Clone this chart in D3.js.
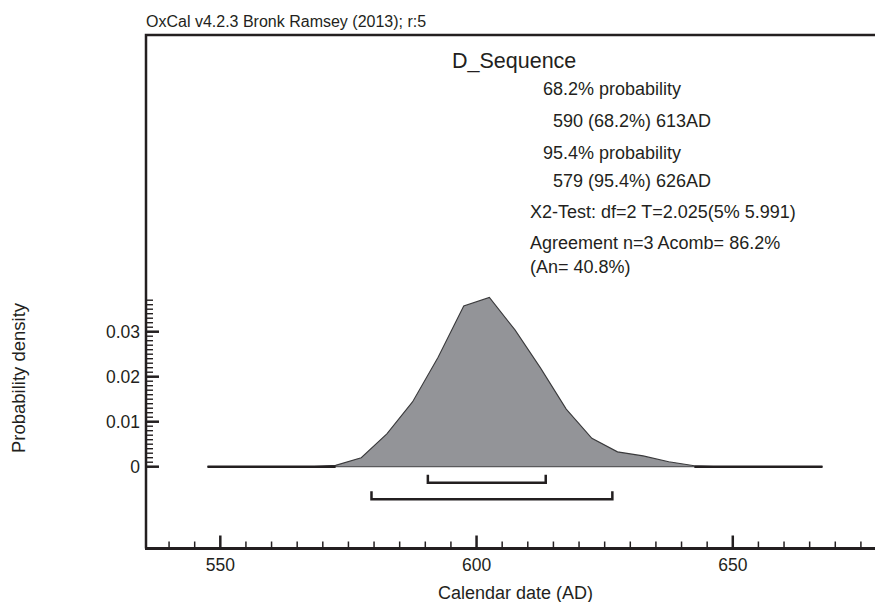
<!DOCTYPE html>
<html>
<head>
<meta charset="utf-8">
<script src="https://cdn.jsdelivr.net/npm/d3@7"></script>
<style>
  html, body { margin: 0; padding: 0; background: #fff; }
  svg { display: block; font-family: "Liberation Sans", Arial, Helvetica, sans-serif; }
</style>
</head>
<body>
<svg id="chart" width="875" height="602"></svg>
<script>
// ---- data ----
const years = [547.5, 552.5, 557.5, 562.5, 567.5, 572.5, 577.5, 582.5, 587.5, 592.5, 597.5, 602.5,
               607.5, 612.5, 617.5, 622.5, 627.5, 632.5, 637.5, 642.5, 647.5, 652.5, 657.5, 662.5, 667.5];
const density = [0, 0, 0, 0, 0, 0.0003, 0.0020, 0.0073, 0.0144, 0.0243, 0.0357, 0.0376,
                 0.0304, 0.0219, 0.0128, 0.0063, 0.0033, 0.0024, 0.0011, 0.0002, 0, 0, 0, 0, 0];
const rangeLabels = ["68.2%", "95.4%"];
const rangeFrom = [590.5, 579.5];
const rangeTo = [613.5, 626.5];
const xMajorTicks = [550, 600, 650];
const xMinorTicks = d3.range(540, 680, 5);
const yMajorTicks = [0, 0.01, 0.02, 0.03];
const yMinorTicks = d3.range(0, 0.0375, 0.001);
const yTickLabels = ["0", "0.01", "0.02", "0.03"];
const headerText = "OxCal v4.2.3 Bronk Ramsey (2013); r:5";
const titleText = "D_Sequence";
const infoLines = [
  "68.2% probability",
  "590 (68.2%) 613AD",
  "95.4% probability",
  "579 (95.4%) 626AD",
  "X2-Test: df=2 T=2.025(5% 5.991)",
  "Agreement n=3 Acomb= 86.2%",
  "(An= 40.8%)"
];
const xTitle = "Calendar date (AD)";
const yTitle = "Probability density";

// ---- layout ----
const svg = d3.select("#chart");
const fLeft = 146, fTop = 35, fRight = 875, fBottom = 548.5;
const x = d3.scaleLinear().domain([535.5, 677.75]).range([fLeft, fRight]);
const y = d3.scaleLinear().domain([0, 0.04]).range([466.7, 286.7]);
const ink = "#231f20";

const pts = years.map((yr, i) => ({ yr, d: density[i] }));

// filled density
svg.append("path")
  .datum(pts)
  .attr("d", d3.area().x(p => x(p.yr)).y0(y(0)).y1(p => y(p.d)))
  .attr("fill", "#939498")
  .attr("stroke", "none");

// outline of curve
svg.append("path")
  .datum(pts)
  .attr("d", d3.line().x(p => x(p.yr)).y(p => y(p.d)))
  .attr("fill", "none")
  .attr("stroke", "#3a3a3c")
  .attr("stroke-width", 1.1);

// gray baseline under fill
svg.append("line")
  .attr("x1", x(years[0])).attr("x2", x(years[years.length - 1]))
  .attr("y1", y(0)).attr("y2", y(0))
  .attr("stroke", "#5a5a5c").attr("stroke-width", 1.2);

// thick black baseline where density is zero
const firstNZ = density.findIndex(v => v > 0.0005);
const lastNZ = density.length - 1 - [...density].reverse().findIndex(v => v > 0.0005);
[[years[0], years[firstNZ - 1]], [years[lastNZ + 1], years[years.length - 1]]].forEach(([a, b]) => {
  svg.append("line")
    .attr("x1", x(a)).attr("x2", x(b))
    .attr("y1", y(0)).attr("y2", y(0))
    .attr("stroke", ink).attr("stroke-width", 2.5);
});

// range brackets
const bracketY = [482.7, 499.3];
rangeLabels.forEach((lab, i) => {
  const by = bracketY[i];
  const x1 = x(rangeFrom[i]), x2 = x(rangeTo[i]);
  svg.append("path")
    .attr("d", `M${x1},${by - 8}V${by}H${x2}V${by - 8}`)
    .attr("fill", "none")
    .attr("stroke", ink)
    .attr("stroke-width", 2.5);
});

// frame: top and left
svg.append("path")
  .attr("d", `M${fRight + 5},${fTop}H${fLeft}V${fBottom}`)
  .attr("fill", "none").attr("stroke", ink).attr("stroke-width", 2.5);

// x axis
const xAxisG = svg.append("g");
xAxisG.append("line")
  .attr("x1", fLeft - 1).attr("x2", fRight + 5)
  .attr("y1", fBottom).attr("y2", fBottom)
  .attr("stroke", ink).attr("stroke-width", 3);
xAxisG.selectAll("line.minor").data(xMinorTicks.filter(t => !xMajorTicks.includes(t))).enter()
  .append("line").attr("class", "minor")
  .attr("x1", d => x(d)).attr("x2", d => x(d))
  .attr("y1", fBottom).attr("y2", fBottom - 7)
  .attr("stroke", ink).attr("stroke-width", 1.5);
xAxisG.selectAll("line.major").data(xMajorTicks).enter()
  .append("line").attr("class", "major")
  .attr("x1", d => x(d)).attr("x2", d => x(d))
  .attr("y1", fBottom).attr("y2", fBottom - 13)
  .attr("stroke", ink).attr("stroke-width", 2.5);
xAxisG.selectAll("text").data(xMajorTicks).enter()
  .append("text")
  .attr("x", d => x(d)).attr("y", 571)
  .attr("text-anchor", "middle")
  .attr("font-size", "17.5px")
  .attr("fill", ink)
  .text(d => d);

// y axis ticks
const yAxisG = svg.append("g");
yAxisG.selectAll("line.minor").data(yMinorTicks).enter()
  .append("line").attr("class", "minor")
  .attr("x1", fLeft).attr("x2", fLeft + 7)
  .attr("y1", d => y(d)).attr("y2", d => y(d))
  .attr("stroke", ink).attr("stroke-width", 1.4);
yAxisG.selectAll("line.major").data(yMajorTicks).enter()
  .append("line").attr("class", "major")
  .attr("x1", fLeft).attr("x2", fLeft + 13)
  .attr("y1", d => y(d)).attr("y2", d => y(d))
  .attr("stroke", ink).attr("stroke-width", 2.5);
yAxisG.selectAll("text").data(yMajorTicks).enter()
  .append("text")
  .attr("x", fLeft - 6).attr("y", d => y(d))
  .attr("dy", "0.36em")
  .attr("text-anchor", "end")
  .attr("font-size", "17.5px")
  .attr("fill", ink)
  .text((d, i) => yTickLabels[i]);

// axis titles
svg.append("text")
  .attr("x", 515.5).attr("y", 599)
  .attr("text-anchor", "middle")
  .attr("font-size", "18px")
  .attr("fill", ink)
  .text(xTitle);
svg.append("text")
  .attr("transform", "translate(25,378) rotate(-90)")
  .attr("text-anchor", "middle")
  .attr("font-size", "18.5px")
  .attr("fill", ink)
  .text(yTitle);

// header
svg.append("text")
  .attr("x", 146).attr("y", 26.5)
  .attr("font-size", "16px")
  .attr("fill", ink)
  .text(headerText);

// title and info text
svg.append("text")
  .attr("x", 452).attr("y", 67.5)
  .attr("font-size", "21.5px")
  .attr("fill", ink)
  .text(titleText);

const infoX = [543, 553, 543, 553, 530, 530, 530];
const infoY = [95, 127, 159, 187, 218, 249, 273];
infoLines.forEach((t, i) => {
  svg.append("text")
    .attr("x", infoX[i]).attr("y", infoY[i])
    .attr("font-size", "18px")
    .attr("fill", ink)
    .text(t);
});
</script>
</body>
</html>
